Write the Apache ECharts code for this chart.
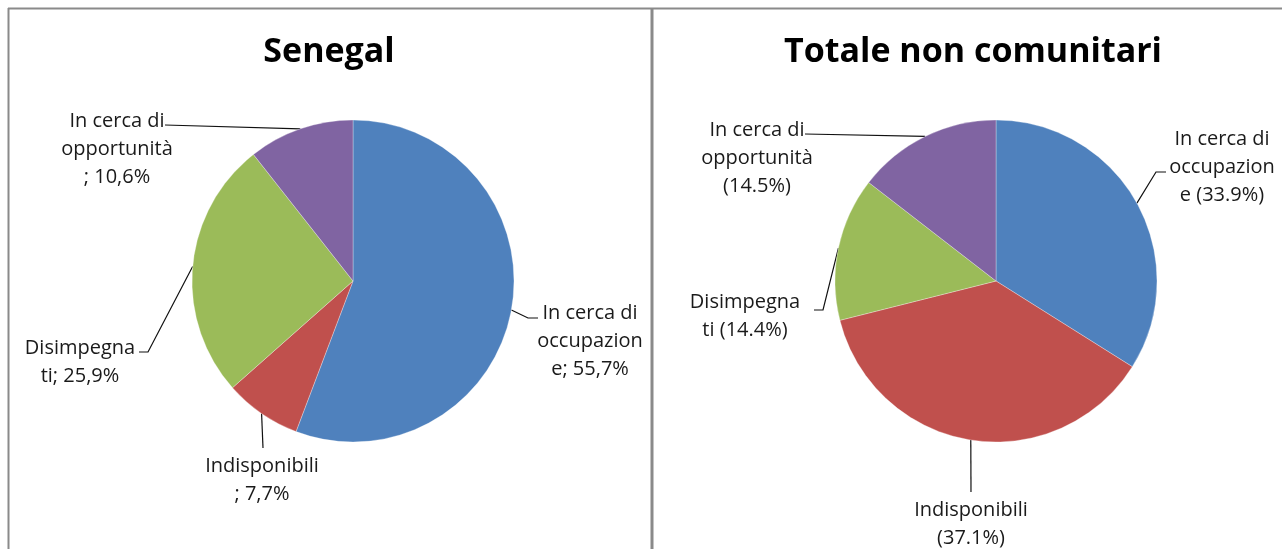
<!DOCTYPE html>
<html>
<head>
<meta charset="utf-8">
<script src="https://cdn.jsdelivr.net/npm/echarts@6/dist/echarts.min.js"></script>
<style>
  html, body { margin: 0; padding: 0; background: #fff; }
  #chart { width: 1282px; height: 549px; }
</style>
</head>
<body>
<div id="chart"></div>
<script>
// categories, in the order the slices run clockwise from 12 o'clock
const categories = ["In cerca di occupazione", "Indisponibili", "Disimpegnati", "In cerca di opportunità"];
// category names as Excel wrapped them inside the label box
const wrappedNames = ["In cerca di\noccupazion\ne", "Indisponibili\n", "Disimpegna\nti", "In cerca di\nopportunità\n"];
const senegalValues = [55.7, 7.7, 25.9, 10.6];
const totaleValues = [33.9, 37.1, 14.4, 14.5];
const titles = ["Senegal", "Totale non comunitari"];

const colors = ["#4F81BD", "#C0504D", "#9BBB59", "#8064A2"];

// label box placement (center x, top y) and leader elbow, per chart
const labelSpots = [
  [
    { x: 590, y: 299, elbow: [[528, 318], [538, 318]] },
    { x: 262, y: 452, elbow: [[263, 448]] },
    { x: 80, y: 334, elbow: [[148, 352], [139, 352]] },
    { x: 117, y: 107, elbow: [[165, 125]] }
  ],
  [
    { x: 1222, y: 125, elbow: [[1156, 172], [1166, 172]] },
    { x: 971, y: 496, elbow: [[971, 492]] },
    { x: 745, y: 288, elbow: [[823, 310], [814, 310]] },
    { x: 757, y: 116, elbow: [[805, 134]] }
  ]
];

function sep(name) {
  return name.endsWith("\n") ? "" : " ";
}

function senegalLabel(p) {
  const n = wrappedNames[p.dataIndex];
  return n + "; " + p.value.toFixed(1).replace(".", ",") + "%";
}

function totaleLabel(p) {
  const n = wrappedNames[p.dataIndex];
  return n + sep(n) + "(" + p.value.toFixed(1) + "%)";
}

function makeSeries(values, center, formatter, idx) {
  return {
    type: "pie",
    center: center,
    radius: 161,
    startAngle: 90,
    clockwise: true,
    avoidLabelOverlap: false,
    silent: true,
    animation: false,
    emphasis: { disabled: true },
    itemStyle: { borderColor: "rgba(255,255,255,0.6)", borderWidth: 0.5 },
    label: {
      show: true,
      position: "outside",
      formatter: formatter,
      fontFamily: "Open Sans",
      fontSize: 20,
      lineHeight: 28,
      color: "#1a1a1a",
      align: "center"
    },
    labelLine: {
      show: true,
      length: 10,
      length2: 10,
      lineStyle: { color: "#111", width: 1.2 }
    },
    labelLayout: function (params) {
      const spot = labelSpots[idx][params.dataIndex];
      const start = params.labelLinePoints ? params.labelLinePoints[0] : null;
      const out = { x: spot.x, y: spot.y, align: "center", verticalAlign: "top" };
      if (start) out.labelLinePoints = [start].concat(spot.elbow);
      return out;
    },
    data: categories.map(function (c, i) {
      return { name: c, value: values[i], itemStyle: { color: colors[i] } };
    })
  };
}

const chart = echarts.init(document.getElementById("chart"));
chart.setOption({
  backgroundColor: "#fff",
  animation: false,
  graphic: [
    { type: "line", shape: { x1: 8, y1: 8.5, x2: 1282, y2: 8.5 }, style: { stroke: "#8a8a8a", lineWidth: 2 } },
    { type: "line", shape: { x1: 8.5, y1: 8, x2: 8.5, y2: 549 }, style: { stroke: "#8a8a8a", lineWidth: 2 } },
    { type: "line", shape: { x1: 652, y1: 8, x2: 652, y2: 549 }, style: { stroke: "#8a8a8a", lineWidth: 3 } },
    {
      type: "text", x: 329, y: 52,
      style: { text: titles[0], fontFamily: "Open Sans", fontWeight: "bold", fontSize: 34, fill: "#000", textAlign: "center", textVerticalAlign: "middle" }
    },
    {
      type: "text", x: 973, y: 52,
      style: { text: titles[1], fontFamily: "Open Sans", fontWeight: "bold", fontSize: 34, fill: "#000", textAlign: "center", textVerticalAlign: "middle" }
    }
  ],
  series: [
    makeSeries(senegalValues, [353, 281], senegalLabel, 0),
    makeSeries(totaleValues, [996, 281], totaleLabel, 1)
  ]
});
</script>
</body>
</html>
